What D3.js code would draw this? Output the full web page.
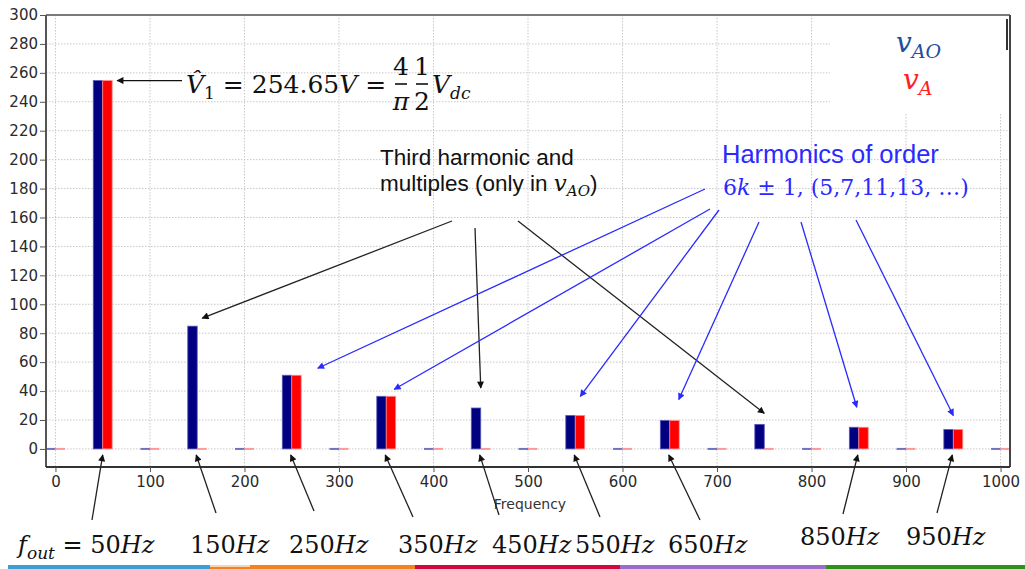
<!DOCTYPE html>
<html><head><meta charset="utf-8">
<script src="https://cdn.jsdelivr.net/npm/d3@7"></script>
<style>body{margin:0;background:#fff}svg{display:block}</style>
</head><body>
<svg id="c" width="1025" height="569"></svg>
<script>
// ---- data ----
const freqs = [0,50,100,150,200,250,300,350,400,450,500,550,600,650,700,750,800,850,900,950,1000];
const vAO   = [0,254.65,0,84.88,0,50.93,0,36.38,0,28.29,0,23.15,0,19.59,0,16.98,0,14.98,0,13.40,0];
const vA    = [0,254.65,0,0,0,50.93,0,36.38,0,0,0,23.15,0,19.59,0,0,0,14.98,0,13.40,0];
const yTicks = [0,20,40,60,80,100,120,140,160,180,200,220,240,260,280,300];
const xTicks = [0,100,200,300,400,500,600,700,800,900,1000];
const xLabel = "Frequency";
const bottomLabels = ["150Hz","250Hz","350Hz","450Hz","550Hz","650Hz","850Hz","950Hz"];
const thirdFreqs = [150,450,750];
const sixkFreqs = [250,350,550,650,850,950];
const stripColors = ["#3f9dd6","#f58220","#d1083f","#9b6dc9","#2f8f1f"];

const svg = d3.select("#c");
const L=46,R=1010,T=15,B=467;
const x = d3.scaleLinear().domain([-10,1010]).range([L,R]);
const y = d3.scaleLinear().domain([-12.5,300]).range([B,T]);

// defs: arrowheads
const defs = svg.append("defs");
[["ab","#111"],["bb","#2a2aff"]].forEach(([id,c])=>{
  defs.append("marker").attr("id",id).attr("viewBox","0 0 10 10").attr("refX",9).attr("refY",5)
    .attr("markerWidth",9).attr("markerHeight",7).attr("markerUnits","userSpaceOnUse").attr("orient","auto")
    .append("path").attr("d","M0,0L10,5L0,10z").attr("fill",c);
});

// grid
const g = svg.append("g");
g.selectAll(".gy").data(yTicks).join("line")
  .attr("x1",L).attr("x2",R).attr("y1",d=>y(d)).attr("y2",d=>y(d))
  .attr("stroke","#c8c8c8").attr("stroke-width",1).attr("stroke-dasharray","1.5,1.5");
g.selectAll(".gx").data(xTicks).join("line")
  .attr("x1",d=>x(d)).attr("x2",d=>x(d)).attr("y1",T).attr("y2",B)
  .attr("stroke","#c8c8c8").attr("stroke-width",1).attr("stroke-dasharray","1.5,1.5");

// white legend box over grid
svg.append("rect").attr("x",830).attr("y",T+1).attr("width",R-831).attr("height",98).attr("fill","#fff");

// bars
const bw = 10;
const bars = svg.append("g");
freqs.forEach((f,i)=>{
  [[vAO[i],f-bw,f,"#000080","#5a5ab8"],[vA[i],f,f+bw,"#ff0000","#ff8a8a"]].forEach(([v,a,b,col,edge])=>{
    if(v>0){
      bars.append("rect").attr("x",x(a)).attr("width",x(b)-x(a))
        .attr("y",y(v)).attr("height",y(0)-y(v)).attr("fill",col)
        .attr("stroke",edge).attr("stroke-width",0.8);
    } else {
      bars.append("rect").attr("x",x(a)).attr("width",x(b)-x(a))
        .attr("y",y(0)-1).attr("height",2).attr("fill",edge).attr("opacity",0.85);
    }
  });
});

// axes
const ax = svg.append("g");
ax.append("line").attr("x1",L).attr("x2",R).attr("y1",T).attr("y2",T).attr("stroke","#7a7a7a").attr("stroke-width",2);
ax.append("line").attr("x1",R).attr("x2",R).attr("y1",T).attr("y2",B).attr("stroke","#444").attr("stroke-width",2);
ax.append("line").attr("x1",L).attr("x2",L).attr("y1",T).attr("y2",B).attr("stroke","#555").attr("stroke-width",2);
ax.append("line").attr("x1",L).attr("x2",R).attr("y1",B).attr("y2",B).attr("stroke","#333").attr("stroke-width",2);
const yAxis = d3.axisLeft(y).tickValues(yTicks).tickSize(6).tickPadding(2).tickFormat(d3.format("d"));
const yG = svg.append("g").attr("transform",`translate(${L},0)`).call(yAxis);
const xAxis = d3.axisBottom(x).tickValues(xTicks).tickSize(5).tickPadding(4).tickFormat(d3.format("d"));
const xG = svg.append("g").attr("transform",`translate(0,${B})`).call(xAxis);
[yG,xG].forEach(a=>{
  a.select(".domain").remove();
  a.selectAll(".tick line").attr("stroke","#555");
  a.selectAll("text").attr("font-family","DejaVu Sans, sans-serif").attr("font-size",15).attr("fill","#2a2a2a");
});
svg.append("text").attr("x",530).attr("y",509).attr("text-anchor","middle")
  .attr("font-family","DejaVu Sans, sans-serif").attr("font-size",14).attr("fill","#333").text(xLabel);

// text cursor mark
svg.append("line").attr("x1",1007).attr("x2",1007).attr("y1",19).attr("y2",50).attr("stroke","#333").attr("stroke-width",2);

const serif = "DejaVu Serif, serif";
// legend
const lg1 = svg.append("text").attr("x",896).attr("y",52).attr("font-family",serif).attr("fill","#1f4ea0");
lg1.append("tspan").attr("font-style","italic").attr("font-size",28).text("v");
lg1.append("tspan").attr("font-style","italic").attr("font-size",19).attr("dy",6).text("AO");
const lg2 = svg.append("text").attr("x",903).attr("y",89).attr("font-family",serif).attr("fill","#ff2020");
lg2.append("tspan").attr("font-style","italic").attr("font-size",28).text("v");
lg2.append("tspan").attr("font-style","italic").attr("font-size",19).attr("dy",6).text("A");

// fundamental equation
const eq = svg.append("text").attr("x",186).attr("y",93).attr("font-family",serif).attr("font-size",25).attr("fill","#111");
eq.append("tspan").attr("font-style","italic").text("V\u0302");
eq.append("tspan").attr("font-size",17).attr("dy",6).text("1");
eq.append("tspan").attr("dy",-6).text(" = 254.65");
eq.append("tspan").attr("font-style","italic").text("V");
eq.append("tspan").text(" =");
const fr = (cx,top,bot)=>{
  svg.append("text").attr("x",cx).attr("y",75).attr("text-anchor","middle").attr("font-family",serif).attr("font-size",25).attr("fill","#111").attr("font-style",top==="π"?"italic":"normal").text(top);
  svg.append("line").attr("x1",cx-6).attr("x2",cx+6).attr("y1",84).attr("y2",84).attr("stroke","#111").attr("stroke-width",1.6);
  svg.append("text").attr("x",cx).attr("y",110).attr("text-anchor","middle").attr("font-family",serif).attr("font-size",25).attr("fill","#111").attr("font-style",bot==="π"?"italic":"normal").text(bot);
};
fr(401,"4","π"); fr(422,"1","2");
const vdc = svg.append("text").attr("x",432).attr("y",93).attr("font-family",serif).attr("font-size",25).attr("font-style","italic").attr("fill","#111");
vdc.append("tspan").text("V");
vdc.append("tspan").attr("font-size",17).attr("dy",6).text("dc");
svg.append("line").attr("x1",182).attr("x2",x(60)+5).attr("y1",y(254.65)).attr("y2",y(254.65))
  .attr("stroke","#111").attr("stroke-width",1.3).attr("marker-end","url(#ab)");

// third harmonic text
const sans = "Liberation Sans, Arial, sans-serif";
svg.append("text").attr("x",380).attr("y",165).attr("font-family",sans).attr("font-size",22.5).attr("fill","#111").text("Third harmonic and");
const t2 = svg.append("text").attr("x",380).attr("y",191).attr("font-family",sans).attr("font-size",22.5).attr("fill","#111");
t2.append("tspan").text("multiples (only in ");
t2.append("tspan").attr("font-family",serif).attr("font-style","italic").attr("font-size",23).text("v");
t2.append("tspan").attr("font-family",serif).attr("font-style","italic").attr("font-size",15).attr("dy",5).text("AO");
t2.append("tspan").attr("dy",-5).text(")");

// harmonics of order text
svg.append("text").attr("x",722).attr("y",163).attr("font-family",sans).attr("font-size",25.5).attr("fill","#2a2aff").text("Harmonics of order");
const h2 = svg.append("text").attr("x",723).attr("y",195).attr("font-family",serif).attr("font-size",22).attr("fill","#2a2aff");
h2.append("tspan").text("6");
h2.append("tspan").attr("font-style","italic").text("k");
h2.append("tspan").text(" ± 1, (5,7,11,13, …)");

// third-harmonic arrows (black)
const thirdStarts = [[452,221],[475,228],[518,221]];
const thirdTipOff = [[5,-8],[0,-20],[0,-11]];
thirdFreqs.forEach((f,i)=>{
  const v = vAO[freqs.indexOf(f)];
  svg.append("line").attr("x1",thirdStarts[i][0]).attr("y1",thirdStarts[i][1])
    .attr("x2",x(f)+thirdTipOff[i][0]).attr("y2",y(v)+thirdTipOff[i][1])
    .attr("stroke","#222").attr("stroke-width",1.3).attr("marker-end","url(#ab)");
});
// 6k±1 arrows (blue)
const sixStarts = [[705,189],[710,209],[719,210],[759,222],[801,222],[856,220]];
const sixTipOff = [[26,-7],[8,-7],[5,-19],[9,-21],[-2,-20],[0,-14]];
sixkFreqs.forEach((f,i)=>{
  const v = vAO[freqs.indexOf(f)];
  svg.append("line").attr("x1",sixStarts[i][0]).attr("y1",sixStarts[i][1])
    .attr("x2",x(f)+sixTipOff[i][0]).attr("y2",y(v)+sixTipOff[i][1])
    .attr("stroke","#2a2aff").attr("stroke-width",1.3).attr("marker-end","url(#bb)");
});

// bottom labels and arrows
const fOut = svg.append("text").attr("x",18).attr("y",553).attr("font-family",serif).attr("font-size",24).attr("fill","#111");
fOut.append("tspan").attr("font-style","italic").text("f");
fOut.append("tspan").attr("font-style","italic").attr("font-size",17).attr("dy",6).text("out");
fOut.append("tspan").attr("dy",-6).text(" = 50");
fOut.append("tspan").attr("font-style","italic").text("Hz");
const lblX = [190,289,398,492,575,668,800,906];
const lblY = [553,553,553,553,553,553,545,545];
bottomLabels.forEach((s,i)=>{
  const t = svg.append("text").attr("x",lblX[i]).attr("y",lblY[i]).attr("font-family",serif).attr("font-size",24).attr("fill","#111");
  t.append("tspan").text(s.replace("Hz",""));
  t.append("tspan").attr("font-style","italic").text("Hz");
});
const botFreqs = [50,150,250,350,450,550,650,850,950];
const botStarts = [[92,520],[216,513],[314,511],[413,517],[499,515],[600,517],[700,520],[843,514],[937,513]];
botFreqs.forEach((f,i)=>{
  svg.append("line").attr("x1",botStarts[i][0]).attr("y1",botStarts[i][1])
    .attr("x2",x(f)+(f===50?0:-1)).attr("y2",y(0)+6)
    .attr("stroke","#222").attr("stroke-width",1.3).attr("marker-end","url(#ab)");
});

// bottom color strip
const stripX = [8,210,415,620,826,1025];
stripColors.forEach((c,i)=>{
  svg.append("rect").attr("x",stripX[i]).attr("y",565).attr("width",stripX[i+1]-stripX[i]).attr("height",4).attr("fill",c);
});
svg.append("rect").attr("x",210).attr("y",565).attr("width",40).attr("height",2).attr("fill","#fbd3b0");
</script>
</body></html>
